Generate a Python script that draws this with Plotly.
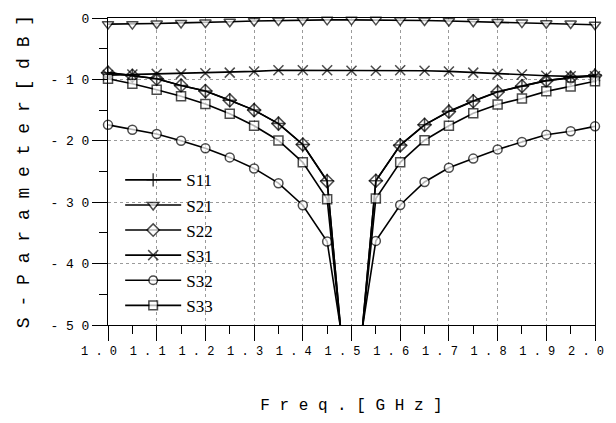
import plotly.graph_objects as go

freq = [1.00, 1.05, 1.10, 1.15, 1.20, 1.25, 1.30, 1.35, 1.40, 1.45, 1.50,
        1.55, 1.60, 1.65, 1.70, 1.75, 1.80, 1.85, 1.90, 1.95, 2.00]

s11 = [-8.9, -9.4, -9.9, -11.0, -11.9, -13.4, -15.0, -17.2, -20.6, -26.5, -70.0,
       -26.5, -20.7, -17.4, -15.2, -13.5, -12.0, -11.1, -10.2, -9.7, -9.3]
s21 = [-1.0, -1.0, -0.9, -0.8, -0.75, -0.6, -0.5, -0.4, -0.35, -0.3, -0.3,
       -0.3, -0.35, -0.4, -0.5, -0.6, -0.65, -0.75, -0.85, -0.9, -1.1]
s22 = [-8.9, -9.4, -9.9, -11.0, -11.9, -13.4, -15.0, -17.2, -20.6, -26.6, -70.0,
       -26.5, -20.75, -17.4, -15.25, -13.55, -12.05, -11.1, -10.2, -9.75, -9.4]
s31 = [-9.3, -9.2, -9.1, -9.1, -9.0, -8.9, -8.7, -8.5, -8.5, -8.5, -8.6,
       -8.6, -8.5, -8.6, -8.7, -8.9, -9.1, -9.2, -9.4, -9.5, -9.5]
s32 = [-17.4, -18.2, -18.9, -20.0, -21.2, -22.7, -24.5, -26.9, -30.5, -36.4, -62.0,
       -36.3, -30.45, -26.7, -24.4, -22.9, -21.4, -20.2, -19.0, -18.45, -17.65]
s33 = [-9.9, -10.7, -11.7, -12.75, -14.0, -15.6, -17.55, -19.95, -23.5, -29.5, -68.0,
       -29.4, -23.5, -19.9, -17.55, -15.5, -14.1, -13.1, -11.95, -11.15, -10.3]

x_ticks = [1.0, 1.1, 1.2, 1.3, 1.4, 1.5, 1.6, 1.7, 1.8, 1.9, 2.0]
x_labels = ["1 . 0", "1 . 1", "1 . 2", "1 . 3", "1 . 4", "1 . 5",
            "1 . 6", "1 . 7", "1 . 8", "1 . 9", "2 . 0"]
y_ticks = [0, -10, -20, -30, -40, -50]
y_labels = ["0", "- 1 0", "- 2 0", "- 3 0", "- 4 0", "- 5 0"]

Y_MIN = -50

def sizes(vals, s):
    return [0 if v < Y_MIN else s for v in vals]

series = [
    # name, values, symbol, size, rank
    ("S22", s22, "diamond", 10, 3),
    ("S11", s11, "cross-thin", 10, 1),
    ("S21", s21, "triangle-down", 10, 2),
    ("S31", s31, "x-thin", 10, 4),
    ("S32", s32, "circle", 9, 5),
    ("S33", s33, "square", 9, 6),
]

fig = go.Figure()
for name, vals, sym, sz, rank in series:
    fig.add_trace(go.Scatter(
        x=freq, y=vals, name=name, mode="lines+markers",
        line=dict(color="black", width=1.6),
        marker=dict(symbol=sym, size=sizes(vals, sz), color="white",
                    line=dict(color="black", width=1.5)),
        cliponaxis=False, legendrank=rank,
    ))

mono = "Liberation Mono"
fig.update_layout(
    width=616, height=423,
    margin=dict(l=108, r=16, t=13, b=98),
    paper_bgcolor="white", plot_bgcolor="white",
    font=dict(family=mono, color="black"),
    showlegend=True,
    legend=dict(
        x=0.025, y=0.53, xanchor="left", yanchor="top",
        bgcolor="rgba(0,0,0,0)", borderwidth=0,
        font=dict(family="Liberation Serif", size=17, color="black"),
        itemwidth=56, tracegroupgap=0,
    ),
)
fig.update_xaxes(
    range=[1.0, 2.0], tickvals=x_ticks, ticktext=x_labels,
    tickfont=dict(family=mono, size=12, color="black"),
    ticks="outside", ticklen=15, tickwidth=1, tickcolor="black",
    ticklabelshift=-9, ticklabeloverflow="allow",
    minor=dict(dtick=0.05, tick0=1.0, ticks="outside", ticklen=8,
               tickcolor="black", showgrid=False),
    showline=True, linecolor="black", linewidth=1, mirror=True,
    showgrid=True, gridcolor="#9a9a9a", griddash="dot", gridwidth=1,
    zeroline=False,
    title=dict(text="F r e q . [ G H z ]", font=dict(family=mono, size=16),
               standoff=40),
)
fig.update_yaxes(
    range=[-50, 0], tickvals=y_ticks, ticktext=y_labels,
    tickfont=dict(family=mono, size=13, color="black"),
    ticks="outside", ticklen=15, tickwidth=1, tickcolor="black",
    minor=dict(dtick=5, tick0=0, ticks="outside", ticklen=8,
               tickcolor="black", showgrid=False),
    showline=True, linecolor="black", linewidth=1, mirror=True,
    showgrid=True, gridcolor="#9a9a9a", griddash="dot", gridwidth=1,
    zeroline=False,
    title=dict(text="S - P a r a m e t e r [ d B ]",
               font=dict(family=mono, size=18), standoff=16),
)

fig.write_html("out.html")
